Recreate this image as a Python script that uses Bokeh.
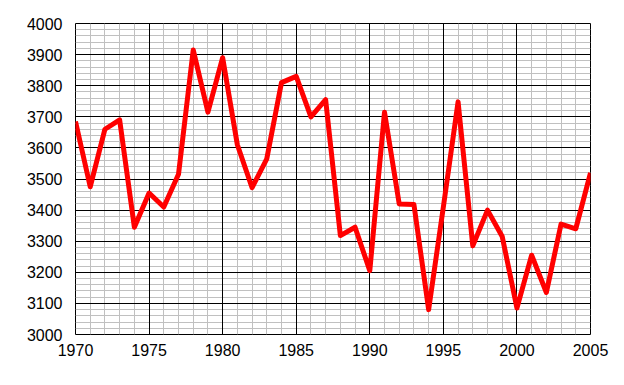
from bokeh.plotting import figure
from bokeh.models import Range1d, FixedTicker, Grid
from bokeh.embed import file_html
from bokeh.resources import INLINE

years = list(range(1970, 2006))
values = [3685, 3475, 3660, 3690, 3345, 3455, 3410, 3515, 3915, 3715,
          3890, 3610, 3472, 3565, 3810, 3830, 3700, 3755, 3318, 3345,
          3205, 3715, 3420, 3418, 3080, 3410, 3748, 3285, 3400, 3315,
          3085, 3255, 3135, 3355, 3340, 3520]

x_major = list(range(1970, 2006, 5))
x_minor = [y for y in range(1970, 2006, 1) if y % 5 != 0]
y_major = list(range(3000, 4001, 100))
y_minor = [v for v in range(3000, 4001, 20) if v % 100 != 0]

p = figure(width=616, height=377, output_backend="svg", toolbar_location=None,
           x_range=Range1d(1970, 2005), y_range=Range1d(3000, 4000),
           min_border_left=75, min_border_right=26, min_border_top=23, min_border_bottom=43)

p.background_fill_color = "white"
p.border_fill_color = "white"
p.outline_line_color = "black"
p.outline_line_width = 1

p.xaxis.ticker = FixedTicker(ticks=x_major, minor_ticks=x_minor)
p.yaxis.ticker = FixedTicker(ticks=y_major, minor_ticks=y_minor)

for ax in (p.xaxis, p.yaxis):
    ax.axis_line_color = None
    ax.major_tick_line_color = None
    ax.minor_tick_line_color = None
    ax.major_tick_out = 0
    ax.major_tick_in = 0
    ax.minor_tick_out = 0
    ax.minor_tick_in = 0
    ax.major_label_text_font = "Liberation Sans"
    ax.major_label_text_font_size = "16px"
    ax.major_label_text_color = "black"

p.yaxis.major_label_standoff = 13
p.xaxis.major_label_standoff = 9

# minor grids first (gray), then major grids (black) on top
p.xgrid.grid_line_color = None
p.xgrid.minor_grid_line_color = "#c0c0c0"
p.xgrid.minor_grid_line_width = 1
p.ygrid.grid_line_color = None
p.ygrid.minor_grid_line_color = "#c0c0c0"
p.ygrid.minor_grid_line_width = 1

p.add_layout(Grid(dimension=1, ticker=FixedTicker(ticks=y_major),
                  grid_line_color="black", grid_line_width=1), "center")
p.add_layout(Grid(dimension=0, ticker=FixedTicker(ticks=x_major),
                  grid_line_color="black", grid_line_width=1), "center")

p.line(years, values, line_color="#ff0000", line_width=5, line_join="round")

open("out.html", "w").write(file_html(p, INLINE))
